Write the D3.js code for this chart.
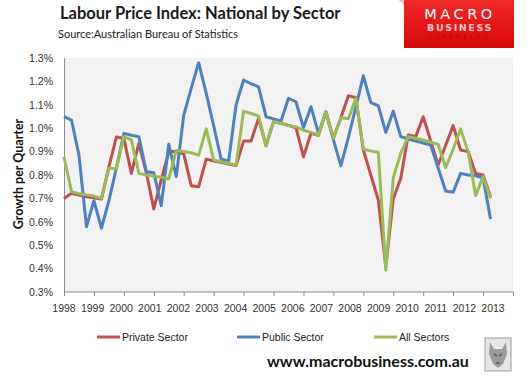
<!DOCTYPE html>
<html>
<head>
<script src="https://d3js.org/d3.v7.min.js"></script>
<style>
  body { margin: 0; background: #fff; }
  svg { display: block; }
</style>
</head>
<body>
<svg width="532" height="381"></svg>
<script>

// data - quarterly growth in %, 1998 Q1 onwards
var years = d3.range(1998, 2014);
var seriesNames = ['Private Sector', 'Public Sector', 'All Sectors'];
var seriesColors = ['#c0504d', '#4f81bd', '#9bbb59'];

var privateSector = [0.70, 0.722, 0.714, 0.707, 0.703, 0.697, 0.835, 0.962, 0.957, 0.807,
    0.935, 0.81, 0.655, 0.78, 0.90, 0.90, 0.89, 0.754, 0.75, 0.868,
    0.86, 0.854, 0.847, 0.84, 0.945, 0.945, 1.042, 0.925, 1.028, 1.02,
    1.012, 1.002, 0.878, 0.978, 0.97, 1.07, 0.957, 1.045, 1.139, 1.13,
    0.907, 0.80, 0.693, 0.408, 0.697, 0.786, 0.971, 0.964, 1.049, 0.946,
    0.843, 0.927, 1.011, 0.907, 0.90, 0.807, 0.80, 0.707];

var publicSector = [1.049, 1.035, 0.885, 0.579, 0.69, 0.573, 0.69, 0.83, 0.978, 0.97,
    0.964, 0.814, 0.81, 0.669, 0.931, 0.793, 1.056, 1.17, 1.28, 1.15,
    1.01, 0.868, 0.86, 1.10, 1.206, 1.19, 1.177, 1.049, 1.04, 1.031,
    1.128, 1.113, 1.002, 1.092, 0.978, 1.07, 0.95, 0.84, 0.96, 1.09,
    1.224, 1.109, 1.096, 0.982, 1.073, 0.964, 0.954, 0.945, 0.937, 0.928,
    0.83, 0.732, 0.726, 0.807, 0.80, 0.797, 0.788, 0.612];

var allSectors = [0.878, 0.729, 0.72, 0.715, 0.71, 0.70, 0.83, 0.826, 0.964, 0.95,
    0.807, 0.80, 0.795, 0.79, 0.783, 0.905, 0.90, 0.895, 0.885, 0.997,
    0.864, 0.857, 0.85, 0.843, 1.073, 1.063, 1.052, 0.925, 1.028, 1.021,
    1.011, 1.006, 0.992, 0.982, 0.971, 1.07, 0.957, 1.045, 1.04, 1.128,
    0.91, 0.903, 0.897, 0.394, 0.788, 0.893, 0.964, 0.957, 0.95, 0.94,
    0.931, 0.831, 0.91, 0.997, 0.90, 0.712, 0.793, 0.70];

var yTicks = [0.3, 0.4, 0.5, 0.6, 0.7, 0.8, 0.9, 1.0, 1.1, 1.2, 1.3];

var series = [privateSector, publicSector, allSectors];

var svg = d3.select('svg');

// plot area (window.top is taken, so use own names)
var plotLeft = 64, plotRight = 513, plotTop = 58, plotBottom = 292;

var x = d3.scaleLinear().domain([0, 60]).range([plotLeft, plotRight]);
var xLabel = d3.scaleLinear().domain([1998, 2013]).range([plotLeft, 493]);
var y = d3.scaleLinear().domain([0.3, 1.3]).range([plotBottom, plotTop]);

svg.append('rect')
    .attr('x', plotLeft).attr('y', plotTop)
    .attr('width', plotRight - plotLeft).attr('height', plotBottom - plotTop)
    .attr('fill', '#f2f2f2');

// title + source
svg.append('text')
    .attr('x', 60).attr('y', 19)
    .attr('font-family', 'Lato').attr('font-weight', 'bold')
    .attr('font-size', 16.5).attr('fill', '#1a1a1a')
    .text('Labour Price Index: National by Sector');

svg.append('text')
    .attr('x', 58).attr('y', 38)
    .attr('font-family', 'Lato').attr('font-size', 11).attr('fill', '#222')
    .text('Source:Australian Bureau of Statistics');

// logo
var logo = svg.append('g');
var grad = svg.append('defs').append('linearGradient')
    .attr('id', 'redg').attr('x1', 0).attr('y1', 0).attr('x2', 0).attr('y2', 1);
grad.append('stop').attr('offset', '0%').attr('stop-color', '#f0282a');
grad.append('stop').attr('offset', '100%').attr('stop-color', '#d8090c');
logo.append('path')
    .attr('d', 'M404,0 L514,0 L514,48 L404,48 Z')
    .attr('fill', 'url(#redg)');
logo.append('path')
    .attr('d', 'M398,0 L404,0 L404,6 Q402,1 398,0 Z')
    .attr('fill', '#f7b5b5');
logo.append('text')
    .attr('x', 460).attr('y', 18.5).attr('text-anchor', 'middle')
    .attr('font-family', 'DejaVu Sans').attr('font-size', 14.5)
    .attr('letter-spacing', 3.5).attr('fill', '#fff')
    .text('MACRO');
logo.append('text')
    .attr('x', 460).attr('y', 31).attr('text-anchor', 'middle')
    .attr('font-family', 'DejaVu Sans').attr('font-weight', 'bold').attr('font-size', 9.5)
    .attr('letter-spacing', 1.6).attr('fill', '#f8c4c4')
    .text('BUSINESS');
logo.append('text')
    .attr('x', 460).attr('y', 39).attr('text-anchor', 'middle')
    .attr('font-family', 'DejaVu Sans').attr('font-size', 5)
    .attr('letter-spacing', 3.6).attr('fill', '#a01010')
    .text('SUPERBLOG');

// axes
var yAxis = svg.append('g')
    .attr('transform', 'translate(' + plotLeft + ',0)')
    .call(d3.axisLeft(y).tickValues(yTicks)
        .tickFormat(function (d) { return d.toFixed(1) + '%'; })
        .tickSize(0).tickPadding(11));
yAxis.select('.domain').attr('stroke', '#8c8c8c');
yAxis.selectAll('text')
    .attr('font-family', 'Liberation Sans').attr('font-size', 10.5).attr('fill', '#333');

var xAxis = svg.append('g')
    .attr('transform', 'translate(0,' + plotBottom + ')')
    .call(d3.axisBottom(x).tickValues(d3.range(0, 61, 4)).tickSize(4).tickFormat(''));
xAxis.select('.domain').attr('stroke', '#8c8c8c').attr('d', 'M' + plotLeft + ',0H' + plotRight);
xAxis.selectAll('.tick line').attr('stroke', '#8c8c8c');

svg.append('g').selectAll('text')
    .data(years)
    .enter().append('text')
    .attr('x', function (d) { return xLabel(d); })
    .attr('y', 312)
    .attr('text-anchor', 'middle')
    .attr('font-family', 'Liberation Sans').attr('font-size', 10.5).attr('fill', '#333')
    .text(function (d) { return d; });

svg.append('text')
    .attr('transform', 'translate(23,174) rotate(-90)')
    .attr('text-anchor', 'middle')
    .attr('font-family', 'Lato').attr('font-weight', 'bold').attr('font-size', 12.5)
    .attr('fill', '#111')
    .text('Growth per Quarter');

// lines
var line = d3.line()
    .x(function (d, i) { return x(i); })
    .y(function (d) { return y(d); });

svg.append('g').selectAll('path')
    .data(series)
    .enter().append('path')
    .attr('fill', 'none')
    .attr('stroke', function (d, i) { return seriesColors[i]; })
    .attr('stroke-width', 3)
    .attr('stroke-linejoin', 'round')
    .attr('d', line);

// legend
var legendX = [97, 237, 374];
var leg = svg.append('g').selectAll('g')
    .data(seriesNames)
    .enter().append('g')
    .attr('transform', function (d, i) { return 'translate(' + legendX[i] + ',337)'; });
leg.append('line')
    .attr('x1', 0).attr('x2', 23)
    .attr('stroke', function (d, i) { return seriesColors[i]; })
    .attr('stroke-width', 3);
leg.append('text')
    .attr('x', 25).attr('y', 4)
    .attr('font-family', 'Liberation Sans').attr('font-size', 10.5).attr('fill', '#222')
    .text(function (d) { return d; });

// footer
svg.append('text')
    .attr('x', 267).attr('y', 367)
    .attr('font-family', 'Lato').attr('font-weight', 'bold').attr('font-size', 16)
    .attr('fill', '#111')
    .text('www.macrobusiness.com.au');

// wolf badge
var badge = svg.append('g').attr('transform', 'translate(485,338)');
badge.append('rect').attr('width', 26).attr('height', 33)
    .attr('fill', '#e6e6e6').attr('stroke', '#9a9a9a').attr('stroke-width', 1);
badge.append('path')
    .attr('d', 'M5,4 L9,11 L17,11 L21,4 L22,16 L18,26 L13,30 L8,26 L4,16 Z')
    .attr('fill', '#9b9b9b');
badge.append('path')
    .attr('d', 'M9,16 L12,18 M17,16 L14,18 M11,25 L15,25')
    .attr('stroke', '#444').attr('stroke-width', 1.2);

</script>
</body>
</html>
